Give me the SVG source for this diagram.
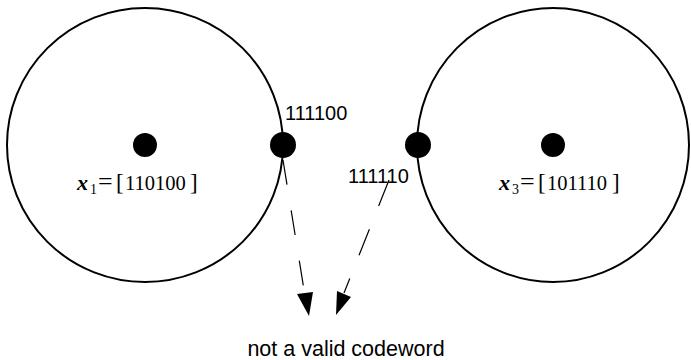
<svg xmlns="http://www.w3.org/2000/svg" width="691" height="360" viewBox="0 0 691 360">
<style>
.ring{fill:none;stroke:#000;stroke-width:2}
.dot{fill:#000}
.lbl{font-family:"Liberation Sans",Arial,sans-serif;font-size:20px;fill:#000}
.big{font-size:21.5px}
.math{font-family:"Liberation Serif","Times New Roman",serif;font-size:20.5px;fill:#000}
.var{font-style:italic;font-weight:bold;font-size:22px}
.sub{font-size:14px}
.eq{font-size:26px}
.br{font-size:23px}
.conn{fill:none;stroke:#000;stroke-width:1.2}
</style>
<rect width="691" height="360" fill="#fff"/>
<g id="sphere1">
<ellipse class="ring" cx="145" cy="145" rx="138" ry="137"/>
<circle class="dot" cx="145" cy="145" r="12"/>
<text class="math" y="190"><tspan class="var" x="77">x</tspan><tspan class="sub" x="90" y="194">1</tspan><tspan class="eq" x="98" y="190">=</tspan><tspan class="br" x="116">[</tspan><tspan x="125">110100</tspan><tspan class="br" x="190">]</tspan></text>
</g>
<g id="sphere3">
<ellipse class="ring" cx="553" cy="145" rx="136" ry="137"/>
<circle class="dot" cx="553" cy="145" r="12"/>
<text class="math" y="190"><tspan class="var" x="499">x</tspan><tspan class="sub" x="512" y="194">3</tspan><tspan class="eq" x="520" y="190">=</tspan><tspan class="br" x="538">[</tspan><tspan x="547">101110</tspan><tspan class="br" x="612">]</tspan></text>
</g>
<g id="w111100">
<circle class="dot" cx="283" cy="145" r="13"/>
<text class="lbl" x="285" y="120">111100</text>
</g>
<g id="w111110">
<circle class="dot" cx="418" cy="145" r="13"/>
<text class="lbl" x="348" y="183">111110</text>
</g>
<g id="invalid">
<text class="lbl big" x="346" y="356" text-anchor="middle">not a valid codeword</text>
</g>
<g id="connectors">
<path class="conn" d="M283,160 L305,296" stroke-dasharray="25 26"/>
<polygon class="dot" points="297,294 313,292 309,316"/>
<path class="conn" d="M389,180 L344,293" stroke-dasharray="28 25"/>
<polygon class="dot" points="337,291 351,297 336,315"/>
</g>
</svg>
